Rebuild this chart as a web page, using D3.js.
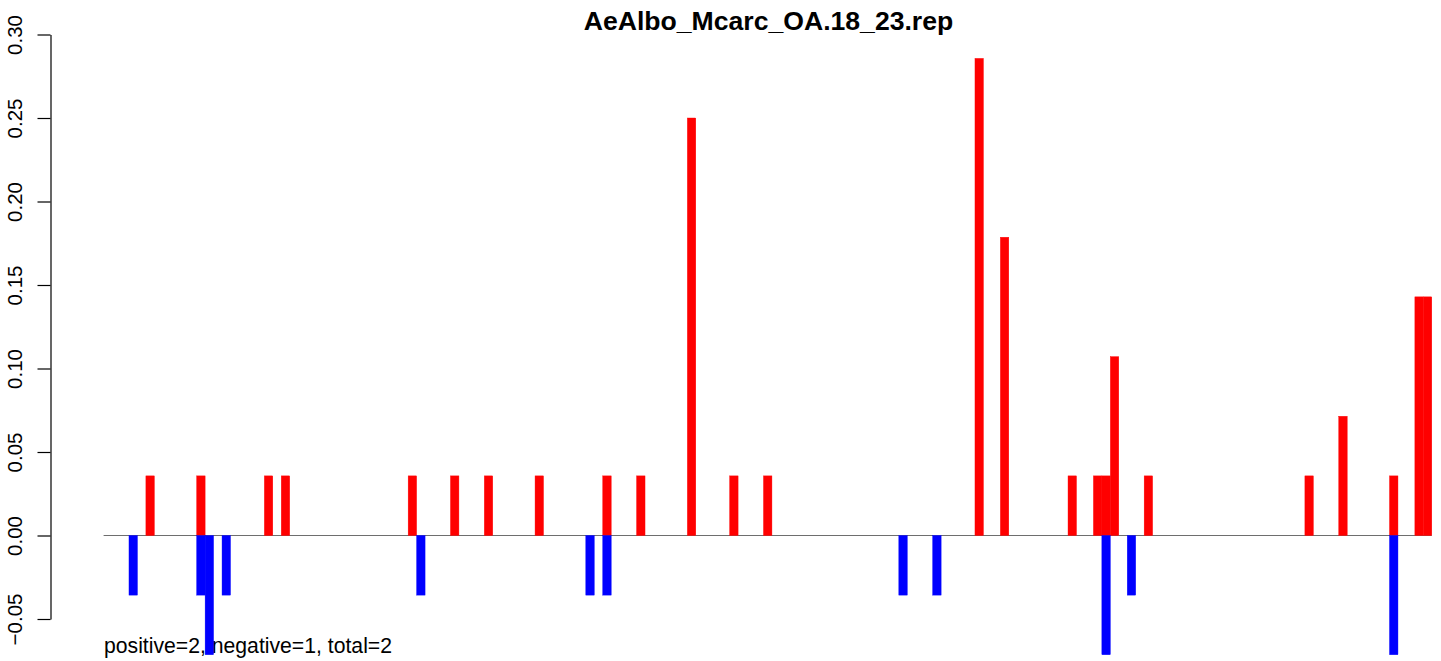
<!DOCTYPE html>
<html>
<head>
<meta charset="utf-8">
<script src="https://cdn.jsdelivr.net/npm/d3@7"></script>
<style>
  html, body { margin: 0; padding: 0; background: #fff; }
  svg { display: block; font-family: "Liberation Sans", Arial, sans-serif; }
</style>
</head>
<body>
<svg id="chart" width="1441" height="661"></svg>
<script>
// ---- data (unit = 1/28) ----
const slotCount = 157;                       // bar slots along the x axis
const posIndex  = [5, 11, 19, 21, 36, 41, 45, 51, 59, 63, 69, 74, 78, 103, 106, 114, 117, 118, 119, 123, 142, 146, 152, 155, 156];
const posValue  = [0.0357, 0.0357, 0.0357, 0.0357, 0.0357, 0.0357, 0.0357, 0.0357, 0.0357, 0.0357, 0.25, 0.0357, 0.0357, 0.2857, 0.1786, 0.0357, 0.0357, 0.0357, 0.1071, 0.0357, 0.0357, 0.0714, 0.0357, 0.1429, 0.1429];
const negIndex  = [3, 11, 12, 14, 37, 57, 59, 94, 98, 118, 121, 152];
const negValue  = [-0.0357, -0.0357, -0.0714, -0.0357, -0.0357, -0.0357, -0.0357, -0.0357, -0.0357, -0.0714, -0.0357, -0.0714];
const yTicks    = [-0.05, 0.00, 0.05, 0.10, 0.15, 0.20, 0.25, 0.30];
const titleText = "AeAlbo_Mcarc_OA.18_23.rep";
const noteText  = "positive=2, negative=1, total=2";

// ---- layout ----
const svg = d3.select("#chart");
const x = d3.scaleBand()
  .domain(d3.range(slotCount))
  .range([103.6, 1431.8])
  .padding(0);
const y = d3.scaleLinear().domain([-0.05, 0.30]).range([619, 34.5]);
const axisX = 50.5;

// title
svg.append("text")
  .attr("x", 768.5).attr("y", 30)
  .attr("text-anchor", "middle")
  .attr("font-weight", "bold")
  .attr("font-size", 26.6)
  .text(titleText);

// y axis
const yAxis = d3.axisLeft(y)
  .tickValues(yTicks)
  .tickFormat(d3.format(".2f"))
  .tickSize(13)
  .tickSizeOuter(0);
const gAxis = svg.append("g")
  .attr("transform", `translate(${axisX},0)`)
  .call(yAxis);
gAxis.select(".domain").attr("stroke", "#000").attr("stroke-width", 1.2);
gAxis.selectAll(".tick line").attr("stroke", "#000").attr("stroke-width", 1.2);
gAxis.selectAll(".tick text")
  .attr("font-size", 20.5)
  .attr("font-family", "Liberation Sans, Arial, sans-serif")
  .attr("fill", "#000")
  .attr("transform", "rotate(-90)")
  .attr("x", 0)
  .attr("y", -(axisX - 22))
  .attr("dy", 0)
  .attr("text-anchor", "middle");

// zero line
svg.append("line")
  .attr("x1", x.range()[0]).attr("x2", x.range()[1])
  .attr("y1", y(0)).attr("y2", y(0))
  .attr("stroke", "#6e6e6e").attr("stroke-width", 1.2);

// note text
svg.append("text")
  .attr("x", 104).attr("y", 653)
  .attr("font-size", 21.2)
  .text(noteText);

// bars
const posData = posIndex.map((i, k) => ({ i, v: posValue[k] }));
const negData = negIndex.map((i, k) => ({ i, v: negValue[k] }));

svg.append("g").selectAll("rect").data(posData).join("rect")
  .attr("x", d => x(d.i))
  .attr("width", x.bandwidth())
  .attr("y", d => y(d.v))
  .attr("height", d => y(0) - y(d.v))
  .attr("fill", "#ff0000")
  .attr("stroke", "#ff0000")
  .attr("stroke-width", 0.4);

svg.append("g").selectAll("rect").data(negData).join("rect")
  .attr("x", d => x(d.i))
  .attr("width", x.bandwidth())
  .attr("y", y(0))
  .attr("height", d => y(d.v) - y(0))
  .attr("fill", "#0000ff")
  .attr("stroke", "#0000ff")
  .attr("stroke-width", 0.4);
</script>
</body>
</html>
